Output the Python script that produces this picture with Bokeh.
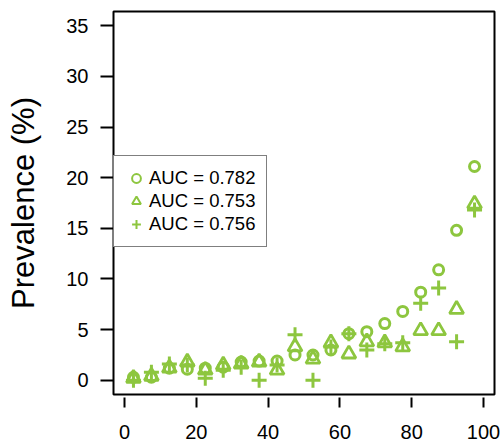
from bokeh.plotting import figure
from bokeh.models import Range1d, FixedTicker, Legend, LegendItem
from bokeh.embed import file_html
from bokeh.resources import INLINE

# ---- data ----
x_mid = [2.5, 7.5, 12.5, 17.5, 22.5, 27.5, 32.5, 37.5, 42.5, 47.5,
         52.5, 57.5, 62.5, 67.5, 72.5, 77.5, 82.5, 87.5, 92.5, 97.5]
prev_circle = [0.3, 0.3, 1.2, 1.1, 1.2, 1.3, 1.8, 1.9, 1.9, 2.5,
               2.5, 3.0, 4.6, 4.8, 5.6, 6.8, 8.7, 10.9, 14.8, 21.1]
prev_triangle = [0.2, 0.4, 1.2, 1.8, 1.0, 1.5, 1.6, 1.8, 1.0, 3.3,
                 2.1, 3.7, 2.6, 3.8, 3.7, 3.3, 4.9, 4.9, 7.0, 17.4]
prev_plus = [0.0, 0.8, 1.6, 1.5, 0.2, 1.0, 1.3, 0.0, 1.5, 4.5,
             0.0, 3.3, 4.6, 3.0, 3.6, 3.7, 7.6, 9.1, 3.8, 16.8]
auc_labels = ["AUC = 0.782", "AUC = 0.753", "AUC = 0.756"]
x_ticks = [0, 20, 40, 60, 80, 100]
y_ticks = [0, 5, 10, 15, 20, 25, 30, 35]
y_label = "Prevalence (%)"

GREEN = "#8DC63F"
FONT = "Liberation Sans"
NAN = float("nan")

p = figure(width=500, height=441, output_backend="svg", toolbar_location=None,
           x_range=Range1d(-3.06, 103.06), y_range=Range1d(-1.4, 36.4),
           min_border_left=113, min_border_right=6, min_border_top=11,
           min_border_bottom=47)
p.background_fill_color = "white"
p.border_fill_color = "white"
p.outline_line_color = "black"
p.outline_line_width = 2
p.outline_line_alpha = 1
p.xgrid.visible = False
p.ygrid.visible = False

p.scatter(x_mid, prev_circle, marker="circle", size=10, fill_color=None,
          line_color=GREEN, line_width=3)
p.scatter(x_mid, prev_triangle, marker="triangle", size=14, fill_color=None,
          line_color=GREEN, line_width=2.8)
p.scatter(x_mid, prev_plus, marker="cross", size=15, fill_color=None,
          line_color=GREEN, line_width=3)

# legend-only proxies (thinner strokes as in the reference legend)
l1 = p.scatter(x=[NAN], y=[NAN], marker="circle", fill_color=None, line_color=GREEN, line_width=2)
l2 = p.scatter(x=[NAN], y=[NAN], marker="triangle", fill_color=None, line_color=GREEN, line_width=2)
l3 = p.scatter(x=[NAN], y=[NAN], marker="cross", fill_color=None, line_color=GREEN, line_width=2)

legend = Legend(items=[LegendItem(label=auc_labels[0], renderers=[l1]),
                       LegendItem(label=auc_labels[1], renderers=[l2]),
                       LegendItem(label=auc_labels[2], renderers=[l3])],
                location=(0, 147), padding=11, spacing=1, margin=0,
                glyph_width=22, glyph_height=22, label_height=22,
                label_standoff=2, label_text_font=FONT,
                label_text_font_size="18.5px", label_text_color="black",
                border_line_color="black", border_line_width=1.5,
                background_fill_color="white", background_fill_alpha=1)
p.add_layout(legend)

for ax in (p.xaxis[0], p.yaxis[0]):
    ax.axis_line_color = None
    ax.major_tick_line_width = 2
    ax.major_tick_line_color = "black"
    ax.minor_tick_line_color = None
    ax.major_label_text_font = FONT
    ax.major_label_text_font_size = "20px"
    ax.major_label_text_color = "black"

p.xaxis.ticker = FixedTicker(ticks=x_ticks)
p.xaxis.major_tick_in = -3
p.xaxis.major_tick_out = 13
p.xaxis.major_label_standoff = 17

p.yaxis.ticker = FixedTicker(ticks=y_ticks)
p.yaxis.major_tick_in = 0
p.yaxis.major_tick_out = 13
p.yaxis.major_label_standoff = 12
p.yaxis.major_label_orientation = "horizontal"
p.yaxis.axis_label = y_label
p.yaxis.axis_label_text_font = FONT
p.yaxis.axis_label_text_font_size = "31px"
p.yaxis.axis_label_text_font_style = "normal"
p.yaxis.axis_label_text_color = "black"
p.yaxis.axis_label_standoff = 22

open("out.html", "w").write(file_html(p, INLINE))
